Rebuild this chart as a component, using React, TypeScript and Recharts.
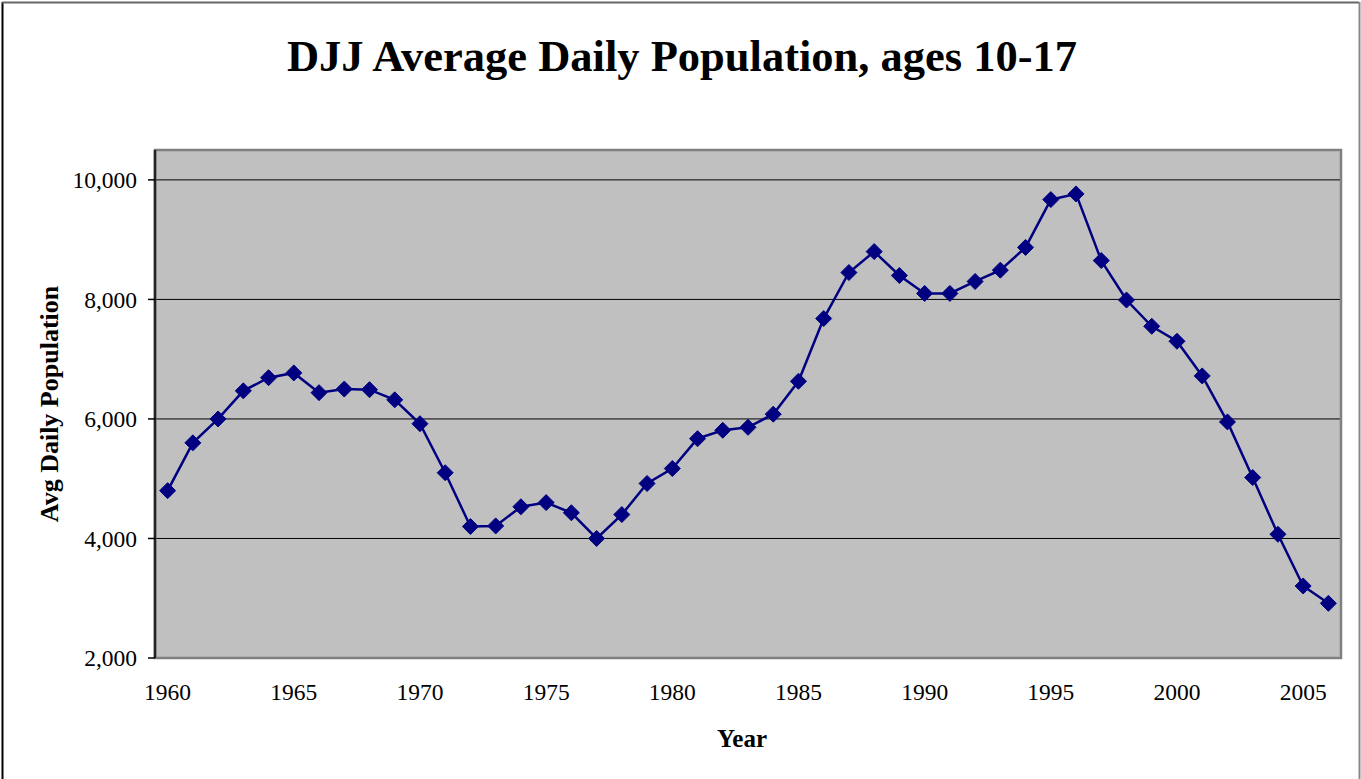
import React from 'react';
import { LineChart, Line, XAxis, YAxis, CartesianGrid, ReferenceArea } from 'recharts';

const years = [
  1960, 1961, 1962, 1963, 1964, 1965, 1966, 1967, 1968, 1969,
  1970, 1971, 1972, 1973, 1974, 1975, 1976, 1977, 1978, 1979,
  1980, 1981, 1982, 1983, 1984, 1985, 1986, 1987, 1988, 1989,
  1990, 1991, 1992, 1993, 1994, 1995, 1996, 1997, 1998, 1999,
  2000, 2001, 2002, 2003, 2004, 2005, 2006,
];

const population = [
  4800, 5600, 6000, 6470, 6690, 6770, 6440, 6500, 6490, 6320,
  5920, 5100, 4200, 4210, 4530, 4600, 4430, 4000, 4400, 4920,
  5170, 5670, 5810, 5860, 6080, 6630, 7680, 8450, 8800, 8400,
  8100, 8100, 8300, 8490, 8870, 9670, 9765, 8650, 7990, 7550,
  7300, 6720, 5950, 5020, 4070, 3205, 2915,
];

const xLabelYears = [1960, 1965, 1970, 1975, 1980, 1985, 1990, 1995, 2000, 2005];
const yTicks = [2000, 4000, 6000, 8000, 10000];

const title = 'DJJ Average Daily Population, ages 10-17';
const yTitle = 'Avg Daily Population';
const xTitle = 'Year';

const data = years.map((y, i) => ({ year: y, value: population[i] }));
const boundaryTicks = xLabelYears.map((y) => y - 0.5);
const xDomain: [number, number] = [years[0] - 0.5, years[years.length - 1] + 0.5];
const yDomain: [number, number] = [2000, 10500];

const FONT = '"Liberation Serif", "Times New Roman", serif';

const Diamond = (props: any) => {
  const { cx, cy, index } = props;
  if (cx == null || cy == null) return <g key={`e-${index}`} />;
  const s = 8;
  return (
    <path
      key={`d-${index}`}
      d={`M${cx},${cy - s}L${cx + s},${cy}L${cx},${cy + s}L${cx - s},${cy}Z`}
      fill="#000080"
      stroke="#000080"
      strokeWidth={1}
    />
  );
};

export default function App() {
  return (
    <div style={{ position: 'absolute', left: 0, top: 0, width: 1361, height: 779, background: '#fff' }}>
      <LineChart
        width={1361}
        height={779}
        data={data}
        margin={{ top: 150, right: 20, bottom: 0, left: 0 }}
        style={{ fontFamily: FONT }}
      >
        <CartesianGrid
          horizontal
          vertical={false}
          stroke="#000"
          strokeWidth={1}
          fill="#c0c0c0"
          fillOpacity={1}
          syncWithTicks
        />
        <ReferenceArea
          xAxisId="ticks"
          x1={xDomain[0]}
          x2={xDomain[1]}
          y1={yDomain[0]}
          y2={yDomain[1]}
          fill="none"
          stroke="#808080"
          strokeWidth={2.5}
          ifOverflow="visible"
        />
        <XAxis
          xAxisId="ticks"
          dataKey="year"
          type="number"
          domain={xDomain}
          allowDataOverflow
          ticks={boundaryTicks}
          interval={0}
          tickFormatter={() => ''}
          height={0}
          tickSize={7}
          tickLine={{ stroke: '#000', strokeWidth: 1.5 }}
          axisLine={{ stroke: '#222', strokeWidth: 2 }}
        />
        <XAxis
          xAxisId="labels"
          dataKey="year"
          type="number"
          domain={xDomain}
          allowDataOverflow
          ticks={xLabelYears}
          interval={0}
          height={121}
          tickSize={0}
          tickMargin={25}
          tickLine={false}
          axisLine={false}
          tick={{ fill: '#000', fontSize: 23.5, fontFamily: FONT }}
        />
        <YAxis
          type="number"
          domain={yDomain}
          ticks={yTicks}
          interval={0}
          width={155}
          tickSize={7}
          tickMargin={11}
          tickFormatter={(v: number) => v.toLocaleString('en-US')}
          tick={{ fill: '#000', fontSize: 23.5, fontFamily: FONT }}
          tickLine={{ stroke: '#000', strokeWidth: 1.5 }}
          axisLine={{ stroke: '#222', strokeWidth: 2.5 }}
          allowDataOverflow
        />
        <Line
          xAxisId="labels"
          type="linear"
          dataKey="value"
          stroke="#000080"
          strokeWidth={2.5}
          dot={Diamond}
          activeDot={false}
          isAnimationActive={false}
        />
      </LineChart>
      <svg
        width={1361}
        height={779}
        style={{ position: 'absolute', left: 0, top: 0, pointerEvents: 'none' }}
      >
        <line x1={2.5} y1={2} x2={2.5} y2={779} stroke="#000" strokeWidth={2} />
        <line x1={2} y1={2.5} x2={1359} y2={2.5} stroke="#666" strokeWidth={2} />
        <line x1={1359.5} y1={2} x2={1359.5} y2={779} stroke="#888" strokeWidth={2} />
        <text x={682} y={71} textAnchor="middle" fontFamily={FONT} fontWeight="bold" fontSize={44.5} fill="#000">
          {title}
        </text>
        <text
          x={58}
          y={404}
          textAnchor="middle"
          fontFamily={FONT}
          fontWeight="bold"
          fontSize={26}
          fill="#000"
          transform="rotate(-90 58 404)"
        >
          {yTitle}
        </text>
        <text x={742} y={747} textAnchor="middle" fontFamily={FONT} fontWeight="bold" fontSize={25} fill="#000">
          {xTitle}
        </text>
      </svg>
    </div>
  );
}
